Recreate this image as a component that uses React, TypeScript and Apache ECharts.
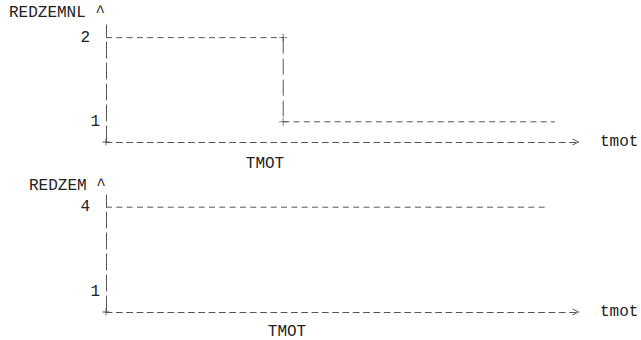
import React, { useEffect, useRef } from "react";
import * as echarts from "echarts";

// Upper chart: REDZEMNL against tmot (step down from 2 to 1)
const tmotA = [0, 37.7, 37.7, 95.5];
const redzemnl = [2, 2, 1, 1];
const cornerA = [false, true, true, false];
const ticksA = [1, 2];

// Lower chart: REDZEM against tmot (constant 4)
const tmotB = [0, 93.4];
const redzem = [4, 4];
const cornerB = [false, false];
const ticksB = [1, 4];

const FONT = "'Liberation Mono', 'Courier New', monospace";
const INK = "#222";
const LINE = "#555";
const PLUS =
  "path://M4.4,0 L5.6,0 L5.6,4.4 L10,4.4 L10,5.6 L5.6,5.6 L5.6,10 L4.4,10 L4.4,5.6 L0,5.6 L0,4.4 L4.4,4.4 Z";
const CHEVRON = "path://M0,10 L5,0 L10,10 L8.6,10 L5,2.8 L1.4,10 Z";

const H_DASH = [6, 4.3];
const V_DASH = [16, 5];

function stepSeries(xs: number[], ys: number[], corners: boolean[], idx: number) {
  const out: any[] = [];
  for (let i = 0; i < xs.length - 1; i++) {
    const vertical = xs[i] === xs[i + 1];
    out.push({
      type: "line",
      xAxisIndex: idx,
      yAxisIndex: idx,
      data: [
        [xs[i], ys[i]],
        [xs[i + 1], ys[i + 1]],
      ],
      symbol: "none",
      silent: true,
      lineStyle: { color: LINE, width: 1, type: vertical ? V_DASH : H_DASH },
    });
  }
  const pts = xs.map((x, i) => [x, ys[i]]).filter((_, i) => corners[i]);
  if (pts.length) {
    out.push({
      type: "scatter",
      xAxisIndex: idx,
      yAxisIndex: idx,
      data: pts,
      symbol: PLUS,
      symbolSize: 8,
      itemStyle: { color: LINE },
      silent: true,
    });
  }
  return out;
}

function yAxisFor(idx: number, min: number, max: number, ticks: number[], top: number) {
  return {
    type: "value",
    gridIndex: idx,
    min,
    max,
    axisLine: {
      show: true,
      onZero: false,
      lineStyle: { color: LINE, width: 1, type: V_DASH },
    },
    axisTick: { show: false },
    splitLine: { show: false },
    axisLabel: {
      customValues: ticks,
      margin: 6,
      formatter: (v: number) => (v === top ? `{w|${v}}` : `{n|${v}}`),
      rich: {
        w: { fontFamily: FONT, fontSize: 16, color: INK, padding: [0, 10, 0, 0] },
        n: { fontFamily: FONT, fontSize: 16, color: INK },
      },
    },
  };
}

function xAxisFor(idx: number) {
  return {
    type: "value",
    gridIndex: idx,
    min: 0,
    max: 100,
    name: "tmot",
    nameLocation: "end",
    nameGap: 24,
    nameTextStyle: { fontFamily: FONT, fontSize: 16, color: INK, align: "left" },
    axisLine: {
      show: true,
      onZero: false,
      symbol: [PLUS, CHEVRON],
      symbolSize: [7, 7],
      lineStyle: { color: LINE, width: 1, type: H_DASH },
    },
    axisTick: { show: false },
    axisLabel: { show: false },
    splitLine: { show: false },
  };
}

export default function App() {
  const ref = useRef<HTMLDivElement>(null);
  useEffect(() => {
    if (!ref.current) return;
    const chart = echarts.init(ref.current, null, { renderer: "svg" });
    chart.setOption({
      animation: false,
      backgroundColor: "#fff",
      textStyle: { fontFamily: FONT },
      grid: [
        { left: 106, right: 65, top: 25, bottom: 198 },
        { left: 106, right: 65, top: 195, bottom: 28 },
      ],
      xAxis: [xAxisFor(0), xAxisFor(1)],
      yAxis: [yAxisFor(0, 0.76, 2.15, ticksA, 2), yAxisFor(1, 0.3, 4.43, ticksB, 4)],
      series: [...stepSeries(tmotA, redzemnl, cornerA, 0), ...stepSeries(tmotB, redzem, cornerB, 1)],
      graphic: [
        {
          type: "text",
          x: 9,
          y: 13,
          style: { text: "REDZEMNL ^", font: `16px ${FONT}`, fill: INK, verticalAlign: "middle" },
        },
        {
          type: "text",
          x: 265,
          y: 164,
          style: { text: "TMOT", font: `16px ${FONT}`, fill: INK, align: "center", verticalAlign: "middle" },
        },
        {
          type: "text",
          x: 29,
          y: 186,
          style: { text: "REDZEM ^", font: `16px ${FONT}`, fill: INK, verticalAlign: "middle" },
        },
        {
          type: "text",
          x: 287,
          y: 332,
          style: { text: "TMOT", font: `16px ${FONT}`, fill: INK, align: "center", verticalAlign: "middle" },
        },
      ],
    });
    return () => chart.dispose();
  }, []);
  return <div ref={ref} style={{ position: "absolute", left: 0, top: 0, width: 641, height: 340 }} />;
}
